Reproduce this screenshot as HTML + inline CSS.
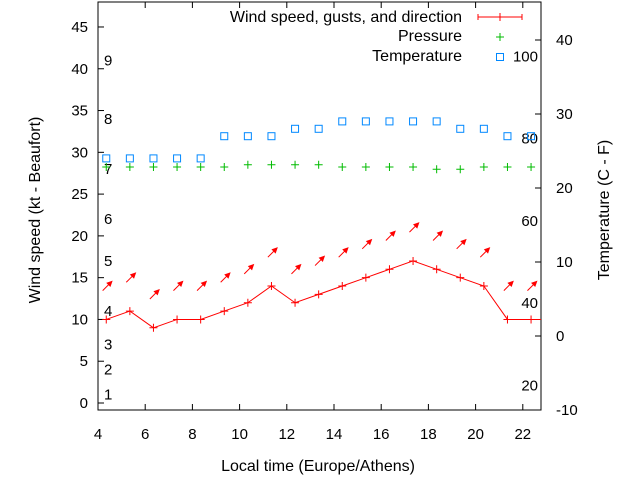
<!DOCTYPE html>
<html><head><meta charset="utf-8"><style>
body{margin:0;background:#fff}
svg{display:block;font-family:"Liberation Sans",Arial,sans-serif;font-size:15px}
.big{font-size:16px}
</style></head><body>
<svg id="c" width="640" height="480" viewBox="0 0 640 480"></svg>
<script>
const hours=[4.35,5.35,6.35,7.35,8.35,9.35,10.35,11.35,12.35,13.35,14.35,15.35,16.35,17.35,18.35,19.35,20.35,21.35,22.35];
const windSpeed=[10,11,9,10,10,11,12,14,12,13,14,15,16,17,16,15,14,10,10];
const gusts=[14,15,13,14,14,15,16,18,16,17,18,19,20,21,20,19,18,14,14];
const windDir=[225,225,225,225,225,225,225,225,225,225,225,225,225,225,225,225,225,225,225];
const pressure=[1013,1013,1013,1013,1013,1013,1014,1014,1014,1014,1013,1013,1013,1013,1012,1012,1013,1013,1013];
const temperature=[24,24,24,24,24,27,27,27,28,28,29,29,29,29,29,28,28,27,27];
const xTicks=[4,6,8,10,12,14,16,18,20,22];
const yTicks=[0,5,10,15,20,25,30,35,40,45];
const y2Ticks=[-10,0,10,20,30,40];
const beaufortLabels=["1","2","3","4","5","6","7","8","9"];
const beaufortKt=[1,4,7,11,17,22,28,34,41];
const fahrenheitLabels=[20,40,60,80,100];

const L=98,R=541,T=2,B=410;
const X=h=>98+(h-4)*23.6;
const Y=v=>403-v*8.356;
const Y2=c=>336-c*7.4;
const YP=p=>167-(p-1013)*2.2;
const svg=document.getElementById('c');
const NS='http://www.w3.org/2000/svg';
function mk(tag,attrs,txt){const e=document.createElementNS(NS,tag);for(const k in attrs)e.setAttribute(k,attrs[k]);if(txt!==undefined)e.textContent=txt;svg.appendChild(e);return e;}

let e;
e=mk('rect',{x:L,y:T,width:R-L,height:B-T,fill:'none',stroke:'#000','stroke-width':1});

xTicks.forEach(t=>{const x=X(t);
 e=mk('path',{d:`M${x} ${B}v-6M${x} ${T}v6`,stroke:'#000'});
 e=mk('text',{x:x,y:439,'text-anchor':'middle'},t);});
yTicks.forEach(t=>{const y=Y(t);
 e=mk('path',{d:`M${L} ${y}h6`,stroke:'#000'});
 e=mk('text',{x:88,y:y+5,'text-anchor':'end'},t);});
y2Ticks.forEach(t=>{const y=Y2(t);
 e=mk('path',{d:`M${R} ${y}h-6`,stroke:'#000'});
 e=mk('text',{x:556,y:y+5},t);});
beaufortLabels.forEach((b,i)=>{e=mk('text',{x:104,y:Y(beaufortKt[i])+5},b);});
fahrenheitLabels.forEach(f=>{e=mk('text',{x:538,y:Y2((f-32)*5/9)+5,'text-anchor':'end'},f);});

e=mk('text',{x:318,y:471,'text-anchor':'middle','class':'big'},'Local time (Europe/Athens)');
e=mk('text',{x:40,y:210,'text-anchor':'middle','class':'big',transform:'rotate(-90 40 210)'},'Wind speed (kt - Beaufort)');
e=mk('text',{x:609,y:210,'text-anchor':'middle','class':'big',transform:'rotate(-90 609 210)'},'Temperature (C - F)');

e=mk('polyline',{points:hours.map((h,i)=>X(h)+','+Y(windSpeed[i])).join(' ')+' '+R+','+Y(windSpeed[windSpeed.length-1]),fill:'none',stroke:'#f00'});

hours.forEach((h,i)=>{const x=X(h),y=Y(windSpeed[i]);
 e=mk('path',{d:`M${x-4} ${y}h8M${x} ${y-4}v8`,stroke:'#f00'});
 const a=(windDir[i]-180)*Math.PI/180;const dx=Math.sin(a)*6.5,dy=-Math.cos(a)*6.5;const cx=x+1,cy=Y(gusts[i]);
 const x2=cx+dx,y2=cy+dy;const ang=Math.atan2(dy,dx);
 const h1x=x2-5*Math.cos(ang-0.45),h1y=y2-5*Math.sin(ang-0.45),h2x=x2-5*Math.cos(ang+0.45),h2y=y2-5*Math.sin(ang+0.45);
 e=mk('path',{d:`M${cx-dx} ${cy-dy}L${x2} ${y2}M${h1x} ${h1y}L${x2} ${y2}L${h2x} ${h2y}Z`,stroke:'#f00',fill:'#f00','stroke-width':1});
 const py=YP(pressure[i]);
 e=mk('path',{d:`M${x-4} ${py}h8M${x} ${py-4}v8`,stroke:'#0b0'});
 const ty=Y2(temperature[i]);
 e=mk('rect',{x:x-3.5,y:ty-3.5,width:7,height:7,fill:'none',stroke:'#08f'});
});
e=mk('text',{x:462,y:22,'text-anchor':'end','class':'big'},'Wind speed, gusts, and direction');
e=mk('path',{d:'M478 17h44M478 14v6M522 14v6M500 13v8',stroke:'#f00'});
e=mk('text',{x:462,y:41,'text-anchor':'end','class':'big'},'Pressure');
e=mk('path',{d:'M496 37h8M500 33v8',stroke:'#0b0'});
e=mk('text',{x:462,y:61,'text-anchor':'end','class':'big'},'Temperature');
e=mk('rect',{x:496.5,y:53.5,width:7,height:7,fill:'none',stroke:'#08f'});
</script>
</body></html>
